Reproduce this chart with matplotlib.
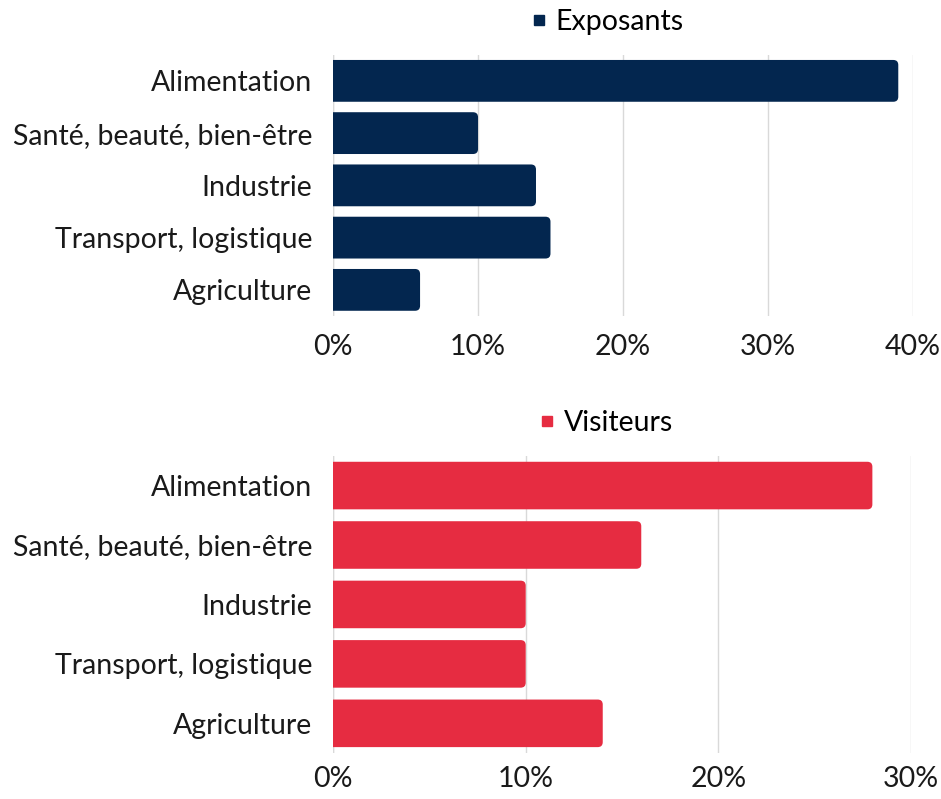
import matplotlib.pyplot as plt
from matplotlib.patches import FancyBboxPatch
from matplotlib.lines import Line2D

plt.rcParams['font.family'] = ['Lato', 'DejaVu Sans']

categories = ['Alimentation', 'Santé, beauté, bien-être', 'Industrie',
              'Transport, logistique', 'Agriculture']
exposants = [39, 10, 14, 15, 6]
visiteurs = [28, 16, 10, 10, 14]
ticks_top = [0, 10, 20, 30, 40]
ticks_bottom = [0, 10, 20, 30]

navy = '#03264F'
red = '#E62C41'

fig = plt.figure(figsize=(9.41, 7.99), dpi=100)
ax1 = fig.add_axes([0.354, 0.6045, 0.616, 0.327])
ax2 = fig.add_axes([0.354, 0.0575, 0.614, 0.372])


def draw(ax, values, ticks, color, label, xpad):
    n = len(values)
    ax.set_xlim(ticks[0], ticks[-1])
    ax.set_ylim(n - 0.5, -0.5)
    ax.set_xticks(ticks)
    ax.set_xticklabels([f'{t}%' for t in ticks])
    ax.set_yticks(range(n))
    ax.set_yticklabels(categories)
    ax.tick_params(axis='both', length=0, labelsize=20.5, labelcolor='#1a1a1a')
    ax.tick_params(axis='y', pad=15)
    ax.tick_params(axis='x', pad=xpad)
    for s in ax.spines.values():
        s.set_visible(False)
    ax.set_axisbelow(True)
    ax.grid(axis='x', color='#d9d9d9', linewidth=1)
    ax.grid(axis='y', visible=False)
    ax.axvline(0, color='#d9d9d9', linewidth=1, zorder=0)

    # rounded right corners: correct rounding for axis aspect
    fig.canvas.draw()
    p0 = ax.transData.transform((0, 0))
    p1 = ax.transData.transform((1, 1))
    px_x = abs(p1[0] - p0[0])
    px_y = abs(p1[1] - p0[1])
    rx = 5 / px_x
    aspect = px_x / px_y
    h = 0.8
    for i, v in enumerate(values):
        # start left of the axis so the left corners are clipped away
        patch = FancyBboxPatch((-2 * rx, i - h / 2), v + 2 * rx, h,
                               boxstyle=f'round,pad=0,rounding_size={rx}',
                               mutation_aspect=aspect,
                               facecolor=color, edgecolor='none', zorder=2)
        ax.add_patch(patch)

    handle = Line2D([], [], marker='s', linestyle='none', markersize=7,
                    color=color)
    ax.legend([handle], [label], loc='lower center', bbox_to_anchor=(0.47, 1.0),
              frameon=False, fontsize=20.5, handletextpad=0.2,
              handlelength=0.8, borderaxespad=0.3)


draw(ax1, exposants, ticks_top, navy, 'Exposants', 13)
draw(ax2, visiteurs, ticks_bottom, red, 'Visiteurs', 9)

fig.savefig('out.png', dpi=100)
